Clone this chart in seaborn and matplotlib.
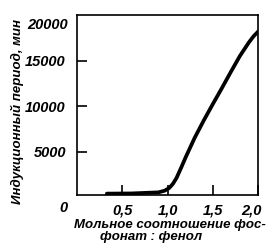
import matplotlib
matplotlib.use("Agg")
import matplotlib.pyplot as plt
import matplotlib.transforms as mtransforms
import seaborn as sns
import pandas as pd

# data
ratio = [0.33, 0.6, 0.9, 0.97, 1.02, 1.06, 1.1, 1.15, 1.2, 1.3, 1.4, 1.5, 1.6, 1.7, 1.8, 1.9, 1.95, 2.0]
period = [420, 440, 560, 750, 1050, 1500, 2150, 3250, 4400, 6550, 8450, 10250, 12000, 13800, 15550, 17050, 17700, 18220]
x_ticks = [0.5, 1.0, 1.5, 2.0]
x_tick_labels = ["0,5", "1,0", "1,5", "2,0"]
y_ticks = [5000, 10000, 15000]
y_tick_labels = ["5000", "10000", "15000"]
y_top_label = "20000"
origin_label = "0"
y_label = "Индукционный период, мин"
x_label_1 = "Мольное соотношение фос-"
x_label_2 = "фонат : фенол"

sns.set_style("ticks")
plt.rcParams["font.family"] = ["Liberation Sans", "DejaVu Sans"]
plt.rcParams["text.color"] = "black"
plt.rcParams["xtick.color"] = "black"
plt.rcParams["ytick.color"] = "black"
plt.rcParams["xtick.labelcolor"] = "black"
plt.rcParams["ytick.labelcolor"] = "black"

W, H = 278, 250
fig = plt.figure(figsize=(W / 100, H / 100), dpi=100)
ax = fig.add_axes([77 / W, 1 - 195 / H, (258 - 77) / W, (195 - 15) / H])

df = pd.DataFrame({"ratio": ratio, "period": period})
sns.lineplot(data=df, x="ratio", y="period", ax=ax, color="black", linewidth=2.7,
             sort=False, estimator=None)

ax.set_xlim(0, 2.0)
ax.set_ylim(270, 20050)
for s in ax.spines.values():
    s.set_linewidth(1.2)
    s.set_color("black")

fp = dict(fontweight="bold", fontstyle="italic", fontsize=10.5, color="black")
ax.set_xticks(x_ticks)
ax.set_xticklabels(x_tick_labels, **fp)
ax.set_yticks(y_ticks)
ax.set_yticklabels(y_tick_labels, **fp)
ax.tick_params(direction="in", length=7, width=1.2, color="black", pad=6)
ax.tick_params(axis="y", pad=8)
ax.set_xlabel("")
ax.set_ylabel("")

# shift last x tick label left
lbl = ax.get_xticklabels()[-1]
lbl.set_transform(lbl.get_transform() + mtransforms.ScaledTranslation(-7 / 100, 0, fig.dpi_scale_trans))

fig.text(68 / W, 1 - 25 / H, y_top_label, ha="right", va="center", **fp)
fig.text(63 / W, 1 - 208 / H, origin_label, ha="center", va="center", **fp)

lp = dict(fontweight="bold", fontstyle="italic", fontsize=9.5, color="black")
fig.text(17 / W, 1 - 112 / H, y_label, rotation=90, ha="center", va="center", **lp)
fig.text(170 / W, 1 - 225 / H, x_label_1, ha="center", va="center", **lp)
fig.text(100 / W, 1 - 237 / H, x_label_2, ha="left", va="center", **lp)

fig.savefig("out.png", dpi=100, facecolor="white")
